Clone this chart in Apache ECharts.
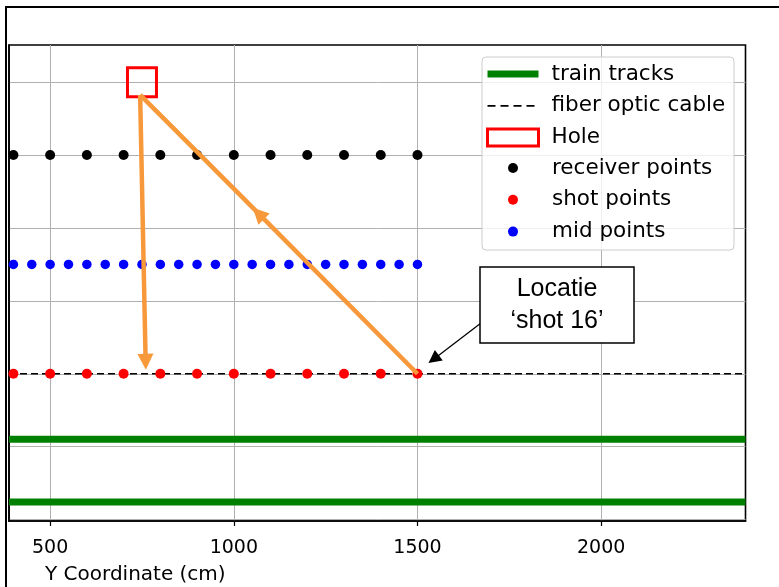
<!DOCTYPE html>
<html><head><meta charset="utf-8">
<script src="https://cdn.jsdelivr.net/npm/echarts@6/dist/echarts.min.js"></script>
<style>html,body{margin:0;padding:0;background:#fff}#c{width:779px;height:587px}</style>
</head><body><div id="c"></div>
<script>
// ---- data ----
const xRange = [388, 2393];
const yRange = [-4, 1302];
const xTicks = [500, 1000, 1500, 2000];
const yTicks = [0, 200, 400, 600, 800, 1000, 1200];
const trackX = [388, 2393];
const trackYs = [220, 48];
const cableX = [388, 2393];
const cableY = 400;
const holeX = [750];
const holeY = [1200];
const receiverX = [400, 500, 600, 700, 800, 900, 1000, 1100, 1200, 1300, 1400, 1500];
const receiverY = 1000;
const shotX = [400, 500, 600, 700, 800, 900, 1000, 1100, 1200, 1300, 1400, 1500];
const shotY = 400;
const midX = [400, 450, 500, 550, 600, 650, 700, 750, 800, 850, 900, 950, 1000, 1050, 1100, 1150, 1200, 1250, 1300, 1350, 1400, 1450, 1500];
const midY = 700;
// annotation arrows (data coords)
const arrowShotToMid = [[1500, 400], [1067, 840]];
const arrowMidToHole = [[1067, 840], [745, 1165]];
const arrowHoleDown = [[745, 1165], [760, 433]];
const arrowLabel = [[1673, 539], [1544, 440]];
const labelLines = ['Locatie', '\u2018shot 16\u2019'];

const orange = '#f7993b';
const chart = echarts.init(document.getElementById('c'), null, {renderer: 'canvas'});
const font = 'DejaVu Sans';

const series = [];
trackYs.forEach(function (ty) {
  series.push({
    type: 'line', name: 'train tracks', symbol: 'none', z: 2,
    data: trackX.map(function (x) { return [x, ty]; }),
    lineStyle: {color: '#008000', width: 7, cap: 'butt'}, itemStyle: {color: '#008000'}
  });
});
series.push({
  type: 'line', name: 'fiber optic cable', symbol: 'none', z: 2,
  data: cableX.map(function (x) { return [x, cableY]; }),
  lineStyle: {color: '#000', width: 1.7, type: [7, 4]}, itemStyle: {color: '#000'}
});
series.push({
  type: 'scatter', name: 'Hole', symbol: 'rect', symbolSize: 29, z: 3,
  data: holeX.map(function (x, i) { return [x, holeY[i]]; }),
  itemStyle: {color: 'rgba(0,0,0,0)', borderColor: '#ff0000', borderWidth: 3, opacity: 1}
});
series.push({
  type: 'scatter', name: 'receiver points', symbol: 'circle', symbolSize: 10, z: 3,
  data: receiverX.map(function (x) { return [x, receiverY]; }),
  itemStyle: {color: '#000000', opacity: 1}
});
series.push({
  type: 'scatter', name: 'shot points', symbol: 'circle', symbolSize: 10, z: 3,
  data: shotX.map(function (x) { return [x, shotY]; }),
  itemStyle: {color: '#ff0000', opacity: 1}
});
series.push({
  type: 'scatter', name: 'mid points', symbol: 'circle', symbolSize: 9.5, z: 3,
  data: midX.map(function (x) { return [x, midY]; }),
  itemStyle: {color: '#0000ff', opacity: 1}
});
function arrowSeries(coords, color, width, withHead, headSize) {
  return {
    type: 'lines', coordinateSystem: 'cartesian2d', polyline: false, z: 5,
    data: [{coords: coords}],
    lineStyle: {color: color, width: width, opacity: 1, curveness: 0},
    symbol: withHead ? ['none', 'triangle'] : ['none', 'none'],
    symbolSize: headSize || 10,
    itemStyle: {color: color}
  };
}
series.push(arrowSeries(arrowShotToMid, orange, 4.5, true, 16));
series.push(arrowSeries(arrowMidToHole, orange, 4.5, false));
series.push(arrowSeries(arrowHoleDown, orange, 4.5, true, 16));
series.push(arrowSeries(arrowLabel, '#000', 1.3, true, 13));

const hiddenSym = {color: 'rgba(0,0,0,0)', borderWidth: 0, opacity: 0};

chart.setOption({
  animation: false,
  backgroundColor: '#fff',
  grid: {left: 9, top: 45, right: 33.5, bottom: 66, show: true, borderColor: '#000', borderWidth: 1.6, backgroundColor: 'transparent'},
  xAxis: {
    type: 'value', min: xRange[0], max: xRange[1],
    axisLine: {show: true, onZero: false, lineStyle: {color: '#000', width: 1.6}},
    axisTick: {show: true, length: 5, lineStyle: {color: '#000', width: 1.2}, customValues: xTicks},
    axisLabel: {show: true, customValues: xTicks, margin: 18, fontFamily: font, fontSize: 19, color: '#000',
      formatter: function (v) { return String(v); }},
    splitLine: {show: true, lineStyle: {color: '#b0b0b0', width: 1}}
  },
  yAxis: {
    type: 'value', min: yRange[0], max: yRange[1],
    axisLine: {show: true, onZero: false, lineStyle: {color: '#000', width: 1.6}},
    axisTick: {show: false, customValues: yTicks},
    axisLabel: {show: false, customValues: yTicks},
    splitLine: {show: true, lineStyle: {color: '#b0b0b0', width: 1}}
  },
  legend: [{
    orient: 'vertical', left: 484, top: 63, padding: 0, itemGap: 9.8,
    itemWidth: 51, itemHeight: 17, selectedMode: false,
    textStyle: {fontFamily: font, fontSize: 21.5, color: '#000', lineHeight: 20, padding: [0, 0, 0, 8]},
    data: [
      {name: 'train tracks', lineStyle: {width: 7, color: '#008000'}, itemStyle: hiddenSym},
      {name: 'fiber optic cable', lineStyle: {width: 1.8, color: '#000', type: [8, 5]}, itemStyle: hiddenSym},
      {name: 'Hole', icon: 'rect', itemStyle: {color: 'rgba(0,0,0,0)', borderColor: '#ff0000', borderWidth: 3}}
    ]
  }, {
    orient: 'vertical', left: 508, top: 157, padding: 0, itemGap: 9.8,
    itemWidth: 10, itemHeight: 10, selectedMode: false,
    textStyle: {fontFamily: font, fontSize: 21.5, color: '#000', lineHeight: 20, padding: [0, 0, 0, 29]},
    data: [
      {name: 'receiver points', icon: 'circle', itemStyle: {color: '#000', opacity: 1}},
      {name: 'shot points', icon: 'circle', itemStyle: {color: '#ff0000', opacity: 1}},
      {name: 'mid points', icon: 'circle', itemStyle: {color: '#0000ff', opacity: 1}}
    ]
  }],
  graphic: [
    {type: 'rect', z: 3, shape: {x: 482, y: 57, width: 252, height: 193, r: 4},
     style: {fill: 'rgba(255,255,255,0.8)', stroke: '#cccccc', lineWidth: 1}},
    {type: 'rect', z: 20, shape: {x: 6, y: 7, width: 1000, height: 1000},
     style: {fill: 'none', stroke: '#000', lineWidth: 2}},
    {type: 'rect', z: 10, shape: {x: 480, y: 267, width: 154, height: 76},
     style: {fill: '#fff', stroke: '#000', lineWidth: 1.5}},
    {type: 'text', z: 11, style: {x: 557, y: 289, text: labelLines[0], font: '25px "Liberation Sans"', fill: '#000', textAlign: 'center', textVerticalAlign: 'middle'}},
    {type: 'text', z: 11, style: {x: 557, y: 321, text: labelLines[1], font: '25px "Liberation Sans"', fill: '#000', textAlign: 'center', textVerticalAlign: 'middle'}},
    {type: 'text', z: 11, style: {x: 45, y: 575, text: 'Y Coordinate (cm)', font: '20px "DejaVu Sans"', fill: '#000', textAlign: 'left', textVerticalAlign: 'middle'}}
  ],
  series: series
});
</script></body></html>
